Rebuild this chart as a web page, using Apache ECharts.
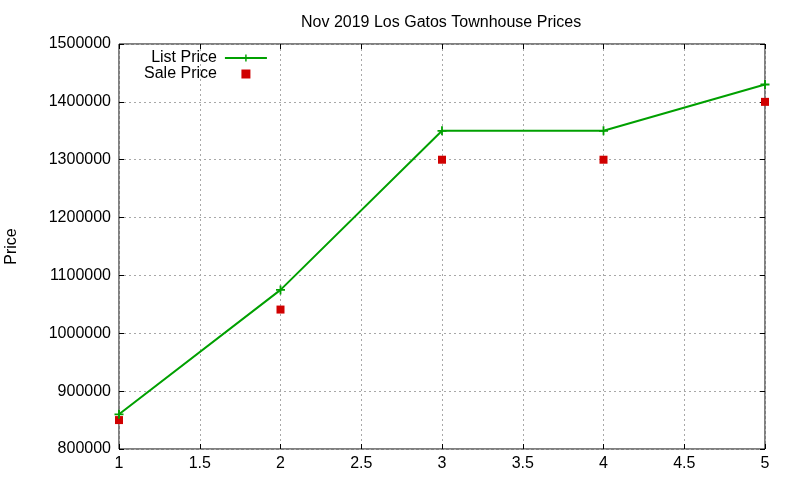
<!DOCTYPE html>
<html>
<head>
<meta charset="utf-8">
<script src="https://cdn.jsdelivr.net/npm/echarts@6/dist/echarts.min.js"></script>
<style>
  html, body { margin: 0; padding: 0; background: #fff; }
  #chart { width: 800px; height: 480px; }
</style>
</head>
<body>
<div id="chart"></div>
<script>
// data
const houses = [1, 2, 3, 4, 5];
const listPrice = [860000, 1075000, 1350000, 1350000, 1430000];
const salePrice = [850000, 1041000, 1300000, 1300000, 1400000];
const xTicks = [1, 1.5, 2, 2.5, 3, 3.5, 4, 4.5, 5];

const FONT = 'Liberation Sans, Arial, sans-serif';
const GREEN = '#00a000';
const RED = '#d00000';
const PLUS = 'path://M4,0h2v4h4v2h-4v4h-2v-4h-4v-2h4z';
const SQUARE = 'path://M0,0h1v1h-1z';

const chart = echarts.init(document.getElementById('chart'));

const tickAxis = function (extra) {
    return Object.assign({
        type: 'value',
        axisLine: { show: false },
        axisTick: { show: true, inside: true, length: 5, lineStyle: { color: '#000', width: 1 } },
        axisLabel: { show: false },
        splitLine: { show: false }
    }, extra);
};

const option = {
    animation: false,
    title: {
        text: 'Nov 2019 Los Gatos Townhouse Prices',
        left: 296,
        top: 10,
        textStyle: { fontFamily: FONT, fontSize: 16, fontWeight: 'normal', color: '#000' }
    },
    legend: {
        orient: 'vertical',
        align: 'right',
        left: 139,
        top: 45,
        itemWidth: 42,
        itemHeight: 9,
        itemGap: 0,
        textStyle: { fontFamily: FONT, fontSize: 16, color: '#000', padding: [0, 3, 0, 0], lineHeight: 16 },
        data: [
            { name: 'List Price' },
            { name: 'Sale Price', icon: SQUARE }
        ]
    },
    grid: {
        left: 119, right: 35, top: 44, bottom: 31,
        outerBoundsMode: 'none',
        show: true, borderColor: '#000', borderWidth: 1
    },
    xAxis: [
        {
            type: 'value', min: 1, max: 5, interval: 0.5,
            axisLine: { show: false },
            axisTick: { show: true, inside: true, length: 5, lineStyle: { color: '#000' } },
            axisLabel: {
                fontFamily: FONT, fontSize: 16, color: '#000', margin: 7,
                formatter: function (v) { return xTicks.indexOf(v) >= 0 ? String(v) : ''; }
            },
            splitLine: { show: true, lineStyle: { color: '#a8a8a8', type: [2, 3], width: 1 } }
        },
        tickAxis({ position: 'top', min: 1, max: 5, interval: 0.5 })
    ],
    yAxis: [
        {
            type: 'value', min: 800000, max: 1500000, interval: 100000,
            name: 'Price',
            nameLocation: 'middle',
            nameGap: 99,
            nameTextStyle: { fontFamily: FONT, fontSize: 16, color: '#000' },
            axisLine: { show: false },
            axisTick: { show: true, inside: true, length: 5, lineStyle: { color: '#000' } },
            axisLabel: {
                fontFamily: FONT, fontSize: 16, color: '#000', margin: 8,
                formatter: function (v) { return String(v); }
            },
            splitLine: { show: true, lineStyle: { color: '#a8a8a8', type: [2, 3], width: 1 } }
        },
        tickAxis({ position: 'right', min: 800000, max: 1500000, interval: 100000 })
    ],
    series: [
        {
            name: 'List Price',
            type: 'line',
            data: houses.map(function (h, i) { return [h, listPrice[i]]; }),
            symbol: PLUS,
            symbolSize: 9,
            showAllSymbol: true,
            lineStyle: { color: GREEN, width: 2 },
            itemStyle: { color: GREEN, opacity: 1 },
            z: 3
        },
        {
            name: 'Sale Price',
            type: 'scatter',
            data: houses.map(function (h, i) { return [h, salePrice[i]]; }),
            symbol: 'rect',
            symbolSize: 8,
            itemStyle: { color: RED, opacity: 1 },
            z: 2
        }
    ]
};

chart.setOption(option);
</script>
</body>
</html>
